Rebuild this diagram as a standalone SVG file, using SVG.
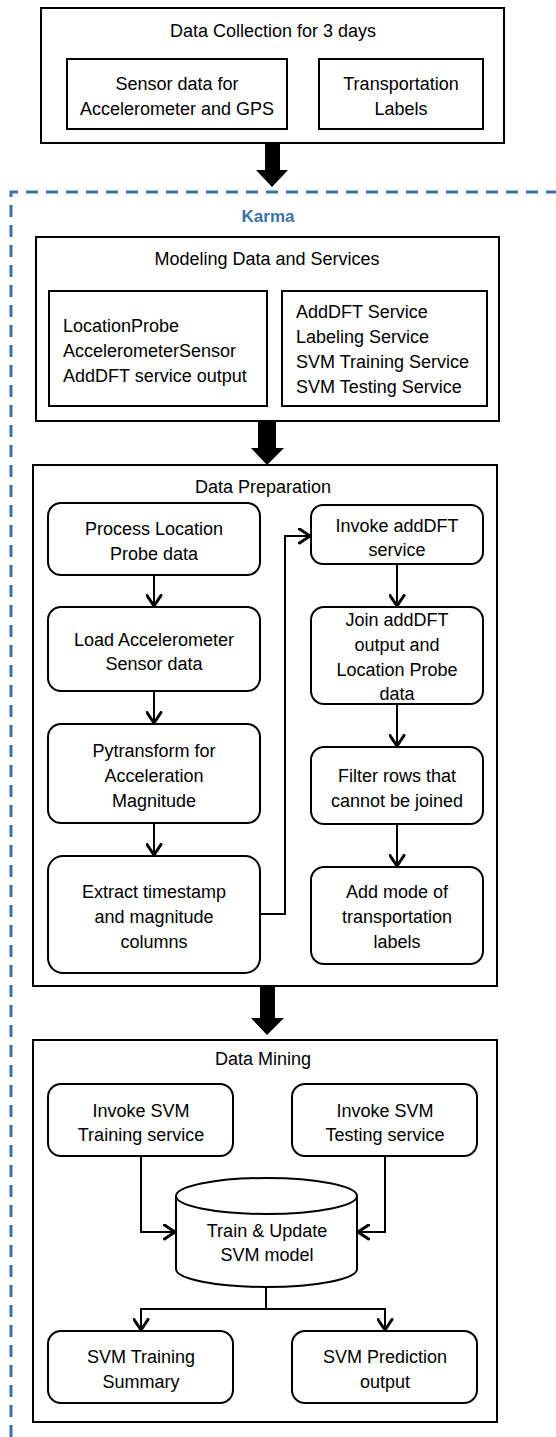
<svg xmlns="http://www.w3.org/2000/svg" width="556" height="1437" viewBox="0 0 556 1437">
<style>
text{font-family:"Liberation Sans",Arial,sans-serif;font-size:18px;fill:#000;text-anchor:middle}
.l{text-anchor:start}
.box{fill:#fff;stroke:#000;stroke-width:2}
.rb{fill:#fff;stroke:#000;stroke-width:2}
.conn{fill:none;stroke:#000;stroke-width:2;marker-end:url(#arr)}
.line{fill:none;stroke:#000;stroke-width:2}
.karma{fill:#3d72a8;font-weight:bold;font-size:17px}
</style>
<defs>
<marker id="arr" viewBox="0 0 14 17" refX="12" refY="8.5" markerWidth="14" markerHeight="17" markerUnits="userSpaceOnUse" orient="auto">
<path d="M1.5,1.5 L12,8.5 L1.5,15.5" fill="none" stroke="#000" stroke-width="3" stroke-linecap="round" stroke-linejoin="round"/>
</marker>
</defs>
<rect width="556" height="1437" fill="#fff"/>

<g id="karma-frame">
<path d="M11,1437 V192 H556" fill="none" stroke="#3d72a8" stroke-width="3" stroke-dasharray="12 8"/>
<text class="karma" x="268" y="222">Karma</text>
</g>

<g id="data-collection">
<rect class="box" x="41" y="8" width="463" height="135"/>
<text x="273" y="37">Data Collection for 3 days</text>
<rect class="box" x="67" y="59" width="220" height="70"/>
<text x="177" y="90">Sensor data for</text>
<text x="177" y="115">Accelerometer and GPS</text>
<rect class="box" x="319" y="59" width="164" height="70"/>
<text x="401" y="90">Transportation</text>
<text x="401" y="115">Labels</text>
</g>

<g id="modeling">
<rect class="box" x="36" y="237" width="463" height="184"/>
<text x="267" y="265">Modeling Data and Services</text>
<rect class="box" x="49" y="291" width="218" height="115"/>
<text class="l" x="63" y="332">LocationProbe</text>
<text class="l" x="63" y="357">AccelerometerSensor</text>
<text class="l" x="63" y="382">AddDFT service output</text>
<rect class="box" x="282" y="291" width="205" height="115"/>
<text class="l" x="296" y="318">AddDFT Service</text>
<text class="l" x="296" y="343">Labeling Service</text>
<text class="l" x="296" y="368">SVM Training Service</text>
<text class="l" x="296" y="393">SVM Testing Service</text>
</g>

<g id="data-preparation">
<rect class="box" x="33" y="465" width="464" height="521"/>
<text x="263" y="493">Data Preparation</text>
</g>
<g id="process-location">
<rect class="rb" x="48" y="503" width="212" height="72" rx="13"/>
<text x="154" y="535">Process Location</text>
<text x="154" y="560">Probe data</text>
</g>
<g id="load-accel">
<rect class="rb" x="48" y="607" width="212" height="84" rx="13"/>
<text x="154" y="646">Load Accelerometer</text>
<text x="154" y="670">Sensor data</text>
</g>
<g id="pytransform">
<rect class="rb" x="48" y="724" width="212" height="99" rx="13"/>
<text x="154" y="757">Pytransform for</text>
<text x="154" y="782">Acceleration</text>
<text x="154" y="807">Magnitude</text>
</g>
<g id="extract">
<rect class="rb" x="48" y="856" width="212" height="117" rx="15"/>
<text x="154" y="898">Extract timestamp</text>
<text x="154" y="923">and magnitude</text>
<text x="154" y="948">columns</text>
</g>
<g id="invoke-adddft">
<rect class="rb" x="311" y="505" width="172" height="59" rx="12"/>
<text x="397" y="532">Invoke addDFT</text>
<text x="397" y="556">service</text>
</g>
<g id="join">
<rect class="rb" x="311" y="607" width="172" height="97" rx="13"/>
<text x="397" y="626">Join addDFT</text>
<text x="397" y="651">output and</text>
<text x="397" y="676">Location Probe</text>
<text x="397" y="700">data</text>
</g>
<g id="filter">
<rect class="rb" x="311" y="747" width="172" height="77" rx="13"/>
<text x="397" y="782">Filter rows that</text>
<text x="397" y="807">cannot be joined</text>
</g>
<g id="add-mode">
<rect class="rb" x="311" y="867" width="172" height="97" rx="13"/>
<text x="397" y="898">Add mode of</text>
<text x="397" y="923">transportation</text>
<text x="397" y="948">labels</text>
</g>

<g id="data-mining">
<rect class="box" x="33" y="1040" width="464" height="382"/>
<text x="263" y="1065">Data Mining</text>
</g>
<g id="invoke-svm-training">
<rect class="rb" x="48" y="1084" width="185" height="72" rx="13"/>
<text x="141" y="1117">Invoke SVM</text>
<text x="141" y="1141">Training service</text>
</g>
<g id="invoke-svm-testing">
<rect class="rb" x="292" y="1084" width="185" height="72" rx="13"/>
<text x="385" y="1117">Invoke SVM</text>
<text x="385" y="1141">Testing service</text>
</g>
<g id="svm-model">
<path d="M176,1196 V1269 A90.5,18 0 0 0 357,1269 V1196" fill="#fff" stroke="#000" stroke-width="2"/>
<ellipse cx="266.5" cy="1196" rx="90.5" ry="18" fill="#fff" stroke="#000" stroke-width="2"/>
<text x="267" y="1237">Train &amp; Update</text>
<text x="267" y="1261">SVM model</text>
</g>
<g id="svm-training-summary">
<rect class="rb" x="48" y="1331" width="185" height="72" rx="13"/>
<text x="141" y="1363">SVM Training</text>
<text x="141" y="1388">Summary</text>
</g>
<g id="svm-prediction">
<rect class="rb" x="292" y="1331" width="185" height="72" rx="13"/>
<text x="385" y="1363">SVM Prediction</text>
<text x="385" y="1388">output</text>
</g>

<g id="connectors">
<polygon points="265,143 280,143 280,170 288,170 272,187 256,170 265,170" fill="#000"/>
<polygon points="258,421 276,421 276,448 284,448 267,465 251,448 258,448" fill="#000"/>
<polygon points="260,986 275,986 275,1018 284,1018 267,1035 251,1018 260,1018" fill="#000"/>
<path class="conn" d="M154,575 V606"/>
<path class="conn" d="M154,691 V723"/>
<path class="conn" d="M154,823 V855"/>
<path class="conn" d="M260,914 H285 V536 H310"/>
<path class="conn" d="M397,564 V606"/>
<path class="conn" d="M397,704 V746"/>
<path class="conn" d="M397,824 V866"/>
<path class="conn" d="M141,1156 V1232 H175"/>
<path class="conn" d="M385,1156 V1232 H358"/>
<path class="line" d="M266,1287 V1309"/>
<path class="conn" d="M266,1309 H141 V1330"/>
<path class="conn" d="M266,1309 H385 V1330"/>
</g>
</svg>
